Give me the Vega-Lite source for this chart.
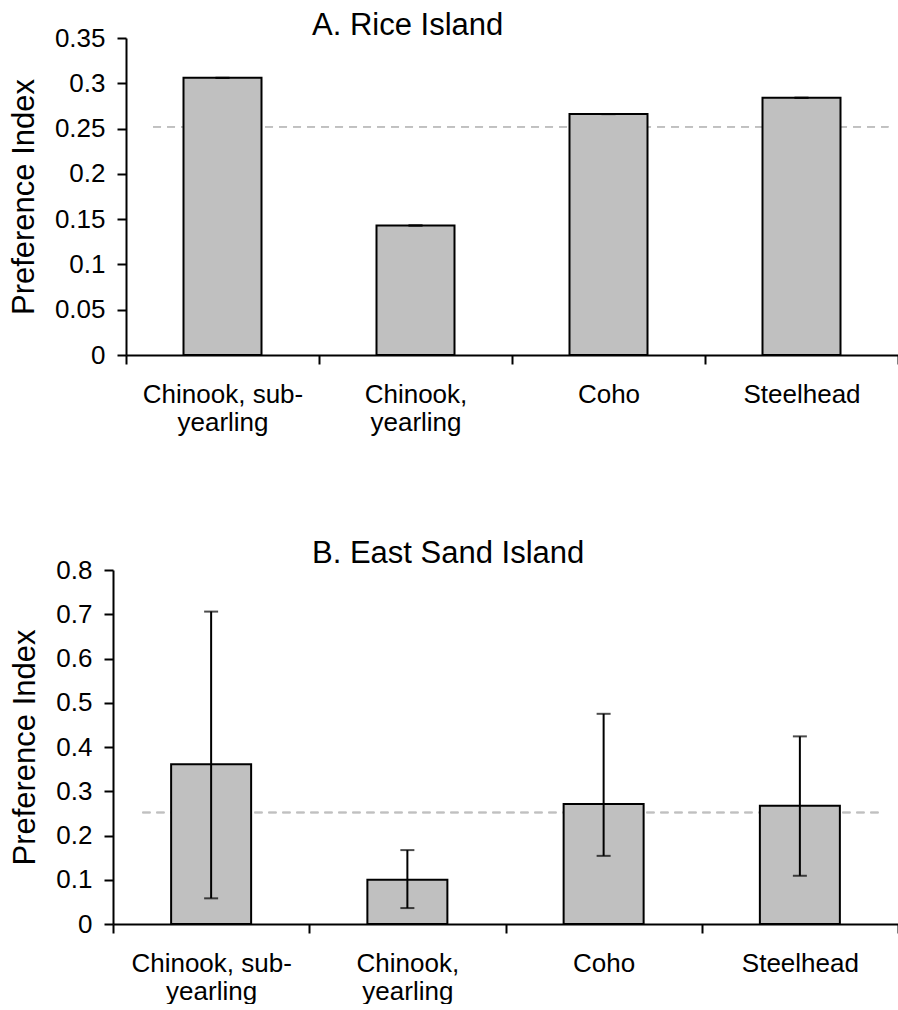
{
  "$schema": "https://vega.github.io/schema/vega-lite/v6.json",
  "padding": {"left": 8, "top": 10, "right": 0, "bottom": 0},
  "background": "white",
  "spacing": 103,
  "config": {
    "view": {"stroke": null},
    "font": "Liberation Sans",
    "axis": {
      "domainColor": "black", "domainWidth": 2, "tickColor": "black", "tickWidth": 2,
      "tickSize": 9, "labelColor": "black", "labelFont": "Liberation Sans", "labelFontSize": 26,
      "titleFont": "Liberation Sans", "titleFontSize": 31, "titleFontWeight": "normal", "titleColor": "black",
      "grid": false
    },
    "title": {"font": "Liberation Sans", "fontSize": 31, "fontWeight": "normal", "color": "black", "anchor": "start", "frame": "group"}
  },
  "datasets": {
    "rice": [
      {"group": "Chinook, sub-yearling", "value": 0.306, "lo": 0.306, "hi": 0.306},
      {"group": "Chinook, yearling", "value": 0.143, "lo": 0.143, "hi": 0.143},
      {"group": "Coho", "value": 0.266, "lo": 0.266, "hi": 0.266},
      {"group": "Steelhead", "value": 0.284, "lo": 0.284, "hi": 0.284}
    ],
    "esi": [
      {"group": "Chinook, sub-yearling", "value": 0.361, "lo": 0.058, "hi": 0.706},
      {"group": "Chinook, yearling", "value": 0.100, "lo": 0.036, "hi": 0.167},
      {"group": "Coho", "value": 0.271, "lo": 0.154, "hi": 0.475},
      {"group": "Steelhead", "value": 0.267, "lo": 0.109, "hi": 0.424}
    ]
  },
  "vconcat": [
    {
      "title": {"text": "A. Rice Island", "dx": 199, "offset": -17},
      "width": 785,
      "height": 317,
      "data": {"name": "rice"},
      "encoding": {
        "x": {
          "field": "group", "type": "nominal",
          "scale": {"domain": ["Chinook, sub-yearling", "Chinook, yearling", "Coho", "Steelhead"], "paddingInner": 0, "paddingOuter": 0, "range": [13, 785]},
          "axis": {
            "title": null, "labelAngle": 0, "tickBand": "extent", "labelPadding": 17, "labelLineHeight": 28,
            "labelExpr": "datum.label == 'Chinook, sub-yearling' ? ['Chinook, sub-', 'yearling'] : datum.label == 'Chinook, yearling' ? ['Chinook,', 'yearling'] : datum.label"
          }
        }
      },
      "layer": [
        {
          "mark": {"type": "rule", "color": "#c0c0c0", "strokeWidth": 1.5, "strokeDash": [8, 6]},
          "encoding": {
            "y": {"datum": 0.252, "type": "quantitative"},
            "x": {"datum": "Chinook, sub-yearling", "type": "nominal", "bandPosition": 0.14},
            "x2": {"datum": "Steelhead", "bandPosition": 0.95}
          }
        },
        {
          "mark": {"type": "bar", "size": 78, "fill": "#c0c0c0", "stroke": "black", "strokeWidth": 2},
          "encoding": {
            "y": {
              "field": "value", "type": "quantitative",
              "scale": {"domain": [0, 0.35], "nice": false},
              "axis": {"title": "Preference Index", "offset": -13, "values": [0, 0.05, 0.1, 0.15, 0.2, 0.25, 0.3, 0.35], "format": "~g", "labelPadding": 12, "titlePadding": 14}
            }
          }
        },
        {
          "mark": {"type": "rule", "color": "black", "strokeWidth": 2},
          "encoding": {"y": {"field": "lo", "type": "quantitative"}, "y2": {"field": "hi"}}
        },
        {
          "mark": {"type": "tick", "orient": "horizontal", "size": 14, "thickness": 2, "color": "black"},
          "encoding": {"y": {"field": "lo", "type": "quantitative"}}
        },
        {
          "mark": {"type": "tick", "orient": "horizontal", "size": 14, "thickness": 2, "color": "black"},
          "encoding": {"y": {"field": "hi", "type": "quantitative"}}
        }
      ]
    },
    {
      "title": {"text": "B. East Sand Island", "dx": 199, "offset": -13},
      "width": 785,
      "height": 354,
      "data": {"name": "esi"},
      "encoding": {
        "x": {
          "field": "group", "type": "nominal",
          "scale": {"domain": ["Chinook, sub-yearling", "Chinook, yearling", "Coho", "Steelhead"], "paddingInner": 0, "paddingOuter": 0},
          "axis": {
            "title": null, "labelAngle": 0, "tickBand": "extent", "labelPadding": 17, "labelLineHeight": 28,
            "labelExpr": "datum.label == 'Chinook, sub-yearling' ? ['Chinook, sub-', 'yearling'] : datum.label == 'Chinook, yearling' ? ['Chinook,', 'yearling'] : datum.label"
          }
        }
      },
      "layer": [
        {
          "mark": {"type": "rule", "color": "#c0c0c0", "strokeWidth": 1.5, "strokeDash": [8, 6]},
          "encoding": {
            "y": {"datum": 0.252, "type": "quantitative"},
            "x": {"datum": "Chinook, sub-yearling", "type": "nominal", "bandPosition": 0.15},
            "x2": {"datum": "Steelhead", "bandPosition": 0.91}
          }
        },
        {
          "mark": {"type": "bar", "size": 80, "fill": "#c0c0c0", "stroke": "black", "strokeWidth": 2},
          "encoding": {
            "y": {
              "field": "value", "type": "quantitative",
              "scale": {"domain": [0, 0.8], "nice": false},
              "axis": {"title": "Preference Index", "values": [0, 0.1, 0.2, 0.3, 0.4, 0.5, 0.6, 0.7, 0.8], "format": "~g", "labelPadding": 12, "titlePadding": 14}
            }
          }
        },
        {
          "mark": {"type": "rule", "color": "black", "strokeWidth": 2},
          "encoding": {"y": {"field": "lo", "type": "quantitative"}, "y2": {"field": "hi"}}
        },
        {
          "mark": {"type": "tick", "orient": "horizontal", "size": 14, "thickness": 2, "color": "black"},
          "encoding": {"y": {"field": "lo", "type": "quantitative"}}
        },
        {
          "mark": {"type": "tick", "orient": "horizontal", "size": 14, "thickness": 2, "color": "black"},
          "encoding": {"y": {"field": "hi", "type": "quantitative"}}
        }
      ]
    }
  ]
}
